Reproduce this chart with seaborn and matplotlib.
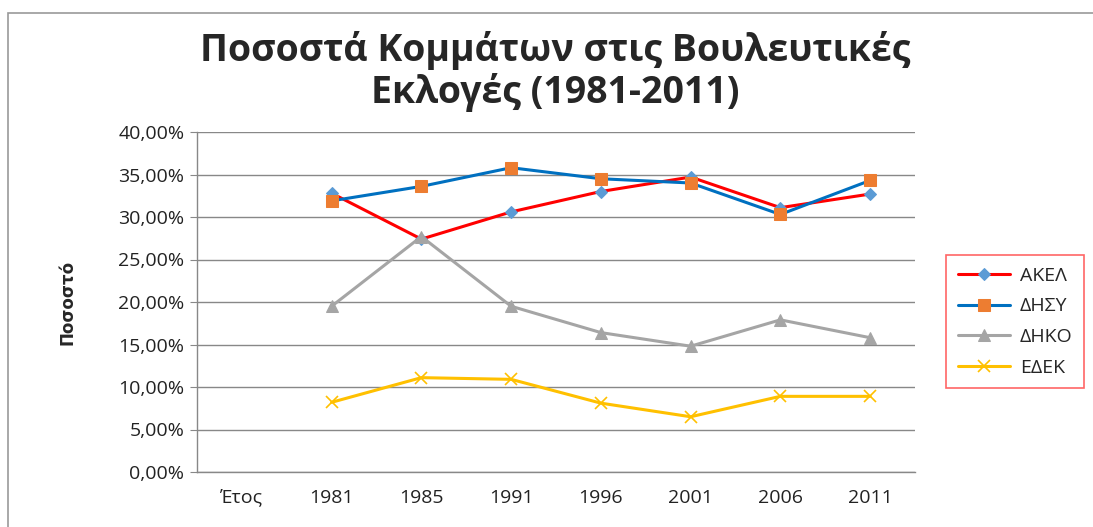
import numpy as np
import pandas as pd
import matplotlib
matplotlib.use("Agg")
import matplotlib.pyplot as plt
from matplotlib.ticker import FuncFormatter
from matplotlib.patches import Rectangle
import seaborn as sb

# data (vote share, fraction)
categories = ['Έτος', '1981', '1985', '1991', '1996', '2001', '2006', '2011']
years = ['1981', '1985', '1991', '1996', '2001', '2006', '2011']
akel = [0.328, 0.274, 0.306, 0.330, 0.347, 0.311, 0.327]
disy = [0.319, 0.336, 0.358, 0.345, 0.340, 0.303, 0.343]
diko = [0.195, 0.277, 0.195, 0.164, 0.148, 0.179, 0.158]
edek = [0.082, 0.111, 0.109, 0.081, 0.065, 0.089, 0.089]
parties = ['ΑΚΕΛ', 'ΔΗΣΥ', 'ΔΗΚΟ', 'ΕΔΕΚ']

sb.set_style('white')
plt.rcParams['font.family'] = ['Open Sans', 'DejaVu Sans']

rows = []
for name, vals in zip(parties, [akel, disy, diko, edek]):
    for y, v in zip(years, vals):
        rows.append({'party': name, 'pos': categories.index(y), 'share': v})
df = pd.DataFrame(rows)

styles = {
    'ΑΚΕΛ': dict(color='#FF0000', marker='D', markerfacecolor='#5B9BD5', markeredgecolor='#5B9BD5', ms=6),
    'ΔΗΣΥ': dict(color='#0070C0', marker='s', markerfacecolor='#ED7D31', markeredgecolor='#ED7D31', ms=9),
    'ΔΗΚΟ': dict(color='#A5A5A5', marker='^', markerfacecolor='#A5A5A5', markeredgecolor='#A5A5A5', ms=9),
    'ΕΔΕΚ': dict(color='#FFC000', marker='x', markerfacecolor='#FFC000', markeredgecolor='#FFC000', ms=9, mew=1.2),
}

fig = plt.figure(figsize=(10.93, 5.27), dpi=100)
ax = fig.add_axes([197 / 1093, 55 / 527, 718 / 1093, 340 / 527])

for name in parties:
    sb.lineplot(data=df[df.party == name], x='pos', y='share', ax=ax, label=name,
                linewidth=2.2, **styles[name])

ax.set_xlim(-0.5, len(categories) - 0.5)
ax.set_ylim(0, 0.40)
ax.set_xticks(range(len(categories)))
ax.set_xticklabels(categories, fontsize=14, color='#222222')
ax.set_yticks(np.arange(0, 0.401, 0.05))
ax.yaxis.set_major_formatter(FuncFormatter(lambda v, p: ('%.2f%%' % (v * 100)).replace('.', ',')))
ax.tick_params(axis='y', labelsize=14, labelcolor='#222222', length=5, color='#888888',
               direction='out', left=True, pad=4)
ax.tick_params(axis='x', length=0, pad=12)
ax.grid(axis='y', color='#888888', linewidth=1)
ax.set_axisbelow(True)
for s in ['top', 'right']:
    ax.spines[s].set_visible(False)
for s in ['left', 'bottom']:
    ax.spines[s].set_color('#888888')
    ax.spines[s].set_linewidth(1)
ax.set_xlabel('')
ax.set_ylabel('Ποσοστό', fontsize=12, fontweight='bold', family=['Liberation Sans Narrow', 'DejaVu Sans'],
              labelpad=30)

ax.legend_.remove()
handles, labels = ax.get_legend_handles_labels()
leg = fig.legend(handles, labels, loc='upper left', bbox_to_anchor=(946 / 1093, 1 - 255 / 527),
                 frameon=True, fancybox=False, fontsize=14, handlelength=2.7, labelspacing=0.65,
                 borderpad=0.6, handletextpad=0.5, borderaxespad=0, edgecolor='#FF4040')
leg.get_frame().set_linewidth(1.2)

fig.text(0.508, 1 - 50 / 527, 'Ποσοστά Κομμάτων στις Βουλευτικές', ha='center', va='center',
         fontsize=27, fontweight='bold')
fig.text(0.508, 1 - 93 / 527, 'Εκλογές (1981-2011)', ha='center', va='center',
         fontsize=27, fontweight='bold')

fig.patches.append(Rectangle((8 / 1093, -0.1), 1.2, 1.1 - 13 / 527, transform=fig.transFigure,
                             fill=False, edgecolor='#999999', linewidth=1.2))

fig.savefig('out.png', dpi=100)
